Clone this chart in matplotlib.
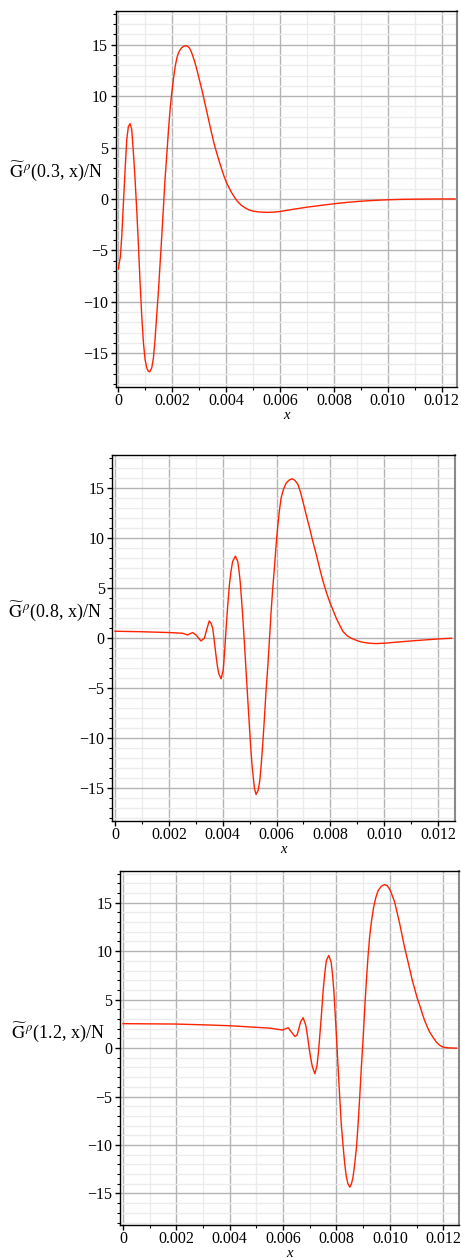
import matplotlib
matplotlib.use("Agg")
import matplotlib.pyplot as plt
from matplotlib.ticker import MultipleLocator, FixedLocator, FixedFormatter
import matplotlib.transforms as mtransforms

plt.rcParams['font.family'] = ['Liberation Serif', 'DejaVu Serif']
plt.rcParams['mathtext.fontset'] = 'stix'

# ---- data: curve for parameter 0.3 ----
x1 = [0.0, 0.000026, 0.000075, 0.000125, 0.000187, 0.000249, 0.00031, 0.000372,
      0.000434, 0.000496, 0.000558, 0.00062, 0.00068, 0.00074, 0.000805, 0.000867,
      0.00093, 0.00099, 0.00105, 0.00111, 0.001164, 0.00124, 0.0013, 0.00136, 0.00142,
      0.00149, 0.00155, 0.00161, 0.00167, 0.00173, 0.0018, 0.00186, 0.00192, 0.00198,
      0.00205, 0.00211, 0.00217, 0.00223, 0.00229, 0.00235, 0.00243, 0.0025, 0.00256,
      0.00263, 0.00269, 0.00275, 0.00283, 0.00291, 0.003, 0.0031, 0.00319, 0.00328,
      0.00337, 0.00346, 0.00355, 0.00365, 0.00375, 0.00384, 0.00393, 0.00402, 0.00412,
      0.00421, 0.0043, 0.0044, 0.00449, 0.00458, 0.0047, 0.00483, 0.005, 0.0052,
      0.0054, 0.00557, 0.0058, 0.006, 0.0065, 0.007, 0.0075, 0.008, 0.0085, 0.009,
      0.0095, 0.01, 0.0105, 0.011, 0.0115, 0.012, 0.0125]
y1 = [-6.8, -6.3, -5.6, -3.6, -0.4, 2.85, 5.77, 7.06,
      7.32, 6.74, 4.47, 1.88, -1.04, -4.28, -8.16, -11.4,
      -14.0, -15.6, -16.4, -16.75, -16.8, -16.4, -15.45, -13.67, -11.4,
      -8.8, -6.2, -3.6, -0.9, 1.88, 4.4, 6.74, 8.7, 10.3,
      11.8, 12.9, 13.7, 14.2, 14.5, 14.7, 14.85, 14.9, 14.85,
      14.7, 14.4, 14.0, 13.35, 12.6, 11.65, 10.6, 9.55, 8.5,
      7.45, 6.4, 5.4, 4.47, 3.6, 2.85, 2.15, 1.55, 1.03,
      0.58, 0.2, -0.16, -0.43, -0.65, -0.86, -1.04, -1.18, -1.26,
      -1.29, -1.3, -1.27, -1.22, -1.0, -0.8, -0.63, -0.47, -0.33, -0.22,
      -0.14, -0.08, -0.04, -0.02, -0.01, 0.0, 0.0]

# ---- data: curve for parameter 0.8 ----
x2 = [0.0, 0.001, 0.002, 0.00251, 0.0027, 0.00288, 0.00301, 0.00319, 0.00332,
      0.00341, 0.0035, 0.00357, 0.00363, 0.00369, 0.00375, 0.0038, 0.00385, 0.00394,
      0.00402, 0.00407, 0.00412, 0.00418, 0.00425, 0.00431, 0.00437, 0.00447, 0.00456,
      0.0046, 0.00465, 0.0047, 0.00475, 0.00481, 0.00487, 0.00493, 0.00499, 0.00504,
      0.00509, 0.00514, 0.00518, 0.00524, 0.00532, 0.00538, 0.00543, 0.00549, 0.00555,
      0.00561, 0.00568, 0.00574, 0.0058, 0.00586, 0.00593, 0.00599, 0.00605, 0.00611,
      0.00617, 0.00626, 0.00636, 0.00647, 0.00658, 0.00669, 0.0068, 0.00689, 0.00698,
      0.0071, 0.00723, 0.00735, 0.00748, 0.0076, 0.00773, 0.00785, 0.00797, 0.0081,
      0.00822, 0.00835, 0.00847, 0.00862, 0.00878, 0.00894, 0.00909, 0.00928, 0.00947,
      0.0097, 0.01, 0.0105, 0.011, 0.0115, 0.012, 0.0125]
y2 = [0.7, 0.65, 0.57, 0.5, 0.33, 0.57, 0.33, -0.27, 0.0,
      0.9, 1.73, 1.5, 1.0, -0.3, -1.67, -2.7, -3.5, -4.05,
      -3.17, -1.4, 0.67, 3.0, 5.33, 6.7, 7.67, 8.2, 7.67,
      6.9, 5.67, 3.9, 2.0, -0.6, -3.33, -6.0, -8.67, -10.8,
      -12.67, -14.0, -15.0, -15.6, -15.17, -14.2, -12.67, -10.5, -8.0,
      -5.3, -2.67, 0.0, 2.67, 5.0, 7.33, 9.5, 11.33, 12.8,
      14.0, 14.9, 15.5, 15.8, 15.93, 15.75, 15.33, 14.6, 13.67,
      12.35, 11.0, 9.65, 8.33, 7.0, 5.67, 4.6, 3.67, 2.8,
      2.0, 1.28, 0.67, 0.25, 0.0, -0.18, -0.33, -0.43, -0.5,
      -0.53, -0.5, -0.38, -0.27, -0.17, -0.07, 0.0]

# ---- data: curve for parameter 1.2 ----
x3 = [0.0, 0.001, 0.002, 0.003, 0.004, 0.005, 0.0055, 0.00575, 0.00597, 0.00606,
      0.00619, 0.00631, 0.00644, 0.00652, 0.00659, 0.00665, 0.00675, 0.00685, 0.00691,
      0.00697, 0.00703, 0.0071, 0.00719, 0.00727, 0.00732, 0.00737, 0.00744, 0.0075,
      0.00756, 0.00762, 0.00771, 0.0078, 0.00785, 0.0079, 0.00795, 0.008, 0.00806,
      0.00812, 0.00818, 0.00825, 0.00831, 0.00837, 0.00843, 0.0085, 0.00856, 0.00862,
      0.00868, 0.00875, 0.00881, 0.00887, 0.00893, 0.009, 0.00906, 0.00912, 0.00918,
      0.00924, 0.00931, 0.00939, 0.00947, 0.00956, 0.00968, 0.0098, 0.0099, 0.00999,
      0.01008, 0.01018, 0.01027, 0.01037, 0.01046, 0.01055, 0.01065, 0.01074, 0.01083,
      0.01093, 0.01102, 0.01112, 0.01121, 0.0113, 0.0114, 0.01149, 0.01162, 0.01174,
      0.01186, 0.01199, 0.0122, 0.01243, 0.0125]
y3 = [2.52, 2.5, 2.48, 2.4, 2.31, 2.14, 2.06, 1.96, 1.86, 1.96,
      2.1, 1.65, 1.2, 1.34, 2.0, 2.68, 3.13, 2.34, 1.3,
      0.1, -1.0, -1.96, -2.65, -1.79, -0.5, 1.13, 3.6, 5.95,
      7.7, 9.04, 9.55, 8.87, 7.6, 5.95, 3.6, 1.13, -2.0,
      -5.05, -7.9, -10.2, -12.0, -13.3, -14.0, -14.35, -14.0, -13.3,
      -12.0, -10.2, -7.8, -5.05, -2.0, 1.13, 4.2, 6.98, 9.4,
      11.44, 13.1, 14.5, 15.5, 16.25, 16.7, 16.87, 16.75, 16.4,
      15.8, 15.05, 14.0, 12.8, 11.6, 10.4, 9.25, 8.18, 7.1,
      6.1, 5.2, 4.4, 3.6, 2.85, 2.2, 1.65, 1.1, 0.62,
      0.3, 0.1, 0.02, 0.0, 0.0]

params = ['0.3', '0.8', '1.2']
xticks = [0, 0.002, 0.004, 0.006, 0.008, 0.010, 0.012]
xticklabels = ['0', '0.002', '0.004', '0.006', '0.008', '0.010', '0.012']
yticks = [-15, -10, -5, 0, 5, 10, 15]
yticklabels = ['\u221215', '\u221210', '\u22125', '0', '5', '10', '15']

W, H = 461, 1258
fig = plt.figure(figsize=(W / 100, H / 100), dpi=100)

# axes rectangles in pixels: left, right, top, bottom
rects = [(115.7, 457.0, 10.7, 386.7),
         (112.3, 455.0, 455.0, 821.0),
         (120.0, 459.0, 870.7, 1225.0)]
xlims = [(-0.0001, 0.01257), (-0.0001, 0.01263), (-0.000112, 0.01259)]
label_y = [2.7, 2.66, 1.65]
label_dx = [-13, -10, -15]

series = [(x1, y1), (x2, y2), (x3, y3)]

for i, ((l, r, t, b), (xs, ys)) in enumerate(zip(rects, series)):
    ax = fig.add_axes([l / W, 1 - b / H, (r - l) / W, (b - t) / H])
    ax.set_xlim(*xlims[i])
    ax.set_ylim(-18.25, 18.3)
    ax.xaxis.set_major_locator(FixedLocator(xticks))
    ax.xaxis.set_major_formatter(FixedFormatter(xticklabels))
    ax.xaxis.set_minor_locator(MultipleLocator(0.001))
    ax.yaxis.set_major_locator(FixedLocator(yticks))
    ax.yaxis.set_major_formatter(FixedFormatter(yticklabels))
    ax.yaxis.set_minor_locator(MultipleLocator(1))
    ax.grid(which='major', color='#b4b4b4', linewidth=1.0)
    ax.grid(which='minor', color='#ececec', linewidth=1.0)
    ax.set_axisbelow(True)
    ax.tick_params(which='major', direction='out', length=3.5, width=1, labelsize=11.5,
                   colors='black', pad=2, top=False, right=False)
    ax.tick_params(axis='x', which='major', pad=1)
    ax.tick_params(which='minor', direction='out', length=2, width=0.8,
                   top=False, right=False)
    for s in ['left', 'bottom', 'top']:
        ax.spines[s].set_color('black')
        ax.spines[s].set_linewidth(1.0)
    ax.spines['right'].set_color('#8a8a8a')
    ax.spines['right'].set_linewidth(1.5)

    ax.plot(xs, ys, color='#ff2200', linewidth=1.0)

    ax.set_xlabel('x', fontstyle='italic', fontsize=10.5, labelpad=0)
    trans = mtransforms.blended_transform_factory(ax.transAxes, ax.transData)
    off = mtransforms.offset_copy(trans, fig=fig, x=label_dx[i], y=0, units='dots')
    ax.text(0, label_y[i], r'$\widetilde{\mathrm{G}}^{\,\rho}$' + '(' + params[i] + ', x)/N',
            transform=off, ha='right', va='center', fontsize=13)

fig.savefig('out.png', dpi=100)
